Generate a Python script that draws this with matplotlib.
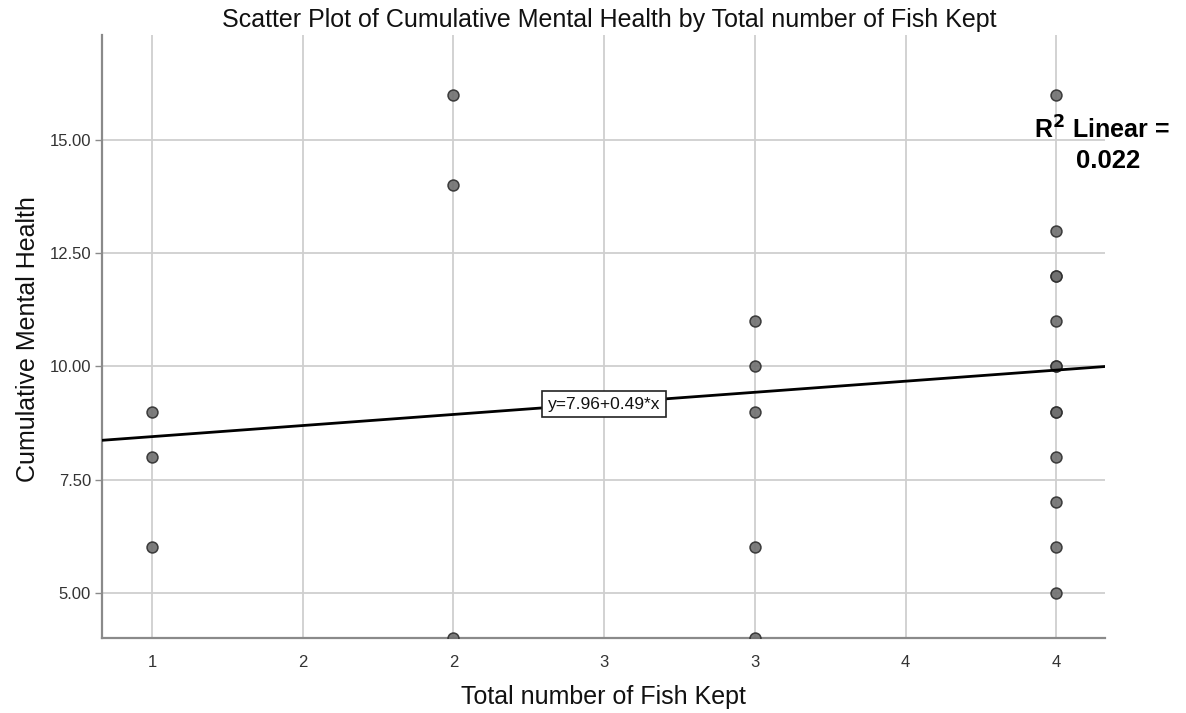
import matplotlib
matplotlib.use("Agg")
import matplotlib.pyplot as plt
import numpy as np

plt.rcParams["font.family"] = ["Liberation Sans", "DejaVu Sans"]

# Observations: fish kept vs. cumulative mental health score
fish_kept = [1, 1, 1,
             2, 2, 2,
             3, 3, 3, 3, 3,
             4, 4, 4, 4, 4, 4, 4, 4, 4, 4, 4, 4, 4]
mental_health = [9, 8, 6,
                 16, 14, 4,
                 11, 10, 9, 6, 4,
                 16, 13, 12, 12, 11, 10, 10, 9, 9, 8, 7, 6, 5]

# Fit line reported by the analysis
intercept = 7.96
slope = 0.49
r_squared = 0.022

x_ticks = [1, 1.5, 2, 2.5, 3, 3.5, 4]
x_tick_labels = ["1", "2", "2", "3", "3", "4", "4"]
y_ticks = [5.0, 7.5, 10.0, 12.5, 15.0]

fig = plt.figure(figsize=(11.86, 7.13), dpi=100)
ax = fig.add_axes([0.086, 0.1052, 0.846, 0.846])

xmin, xmax = 0.834, 4.163
ymin, ymax = 4.0, 17.33
ax.set_xlim(xmin, xmax)
ax.set_ylim(ymin, ymax)

ax.set_xticks(x_ticks)
ax.set_xticklabels(x_tick_labels)
ax.set_yticks(y_ticks)
ax.set_yticklabels([f"{v:.2f}" for v in y_ticks])

ax.grid(True, color="#cfcfcf", linewidth=1.3)
ax.set_axisbelow(True)

for side in ("top", "right"):
    ax.spines[side].set_visible(False)
for side in ("left", "bottom"):
    ax.spines[side].set_color("#8a8a8a")
    ax.spines[side].set_linewidth(1.6)

ax.tick_params(axis="x", length=0, pad=12, labelsize=12, labelcolor="#333333")
ax.tick_params(axis="y", length=5, width=1.0, color="#8a8a8a", pad=3,
               labelsize=12, labelcolor="#333333")

ax.scatter(fish_kept, mental_health, s=62, facecolor="#6f6f6f",
           edgecolor="#2e2e2e", linewidth=1.1, alpha=0.9, zorder=3,
           clip_on=True)

xs = np.array([xmin, xmax])
ax.plot(xs, intercept + slope * xs, color="black", linewidth=2.0, zorder=4)

ax.text(2.5, 9.17, f"y={intercept:.2f}+{slope:.2f}*x", ha="center",
        va="center", fontsize=12.5, color="#111111", zorder=5,
        bbox=dict(boxstyle="square,pad=0.34", facecolor="white",
                  edgecolor="#222222", linewidth=1.2))

fig.text(0.872, 0.806, "R$^\\mathbf{2}$ Linear =", fontsize=18,
         fontweight="bold", ha="left", va="baseline", color="black")
fig.text(0.907, 0.765, f"{r_squared:.3f}", fontsize=18.5,
         fontweight="bold", ha="left", va="baseline", color="black")

fig.text(0.514, 0.962, "Scatter Plot of Cumulative Mental Health by Total number of Fish Kept",
         ha="center", va="baseline", fontsize=18, color="#111111")
fig.text(0.509, 0.012, "Total number of Fish Kept", ha="center",
         va="baseline", fontsize=18, color="#111111")
fig.text(0.024, 0.524, "Cumulative Mental Health", ha="center",
         va="center", rotation=90, fontsize=18, color="#111111")

fig.savefig("out.png", dpi=100)
